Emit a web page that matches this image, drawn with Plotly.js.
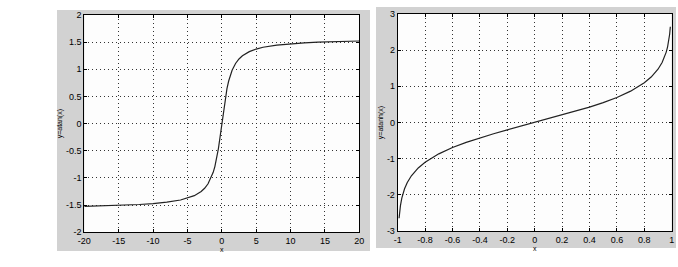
<!DOCTYPE html>
<html><head><meta charset="utf-8">
<script src="https://cdn.plot.ly/plotly-3.0.1.min.js"></script>
<style>html,body{margin:0;padding:0;background:#fff}#c{width:678px;height:267px}</style>
</head><body><div id="c"></div>
<script>
// Left panel: y = atan(x)
const atanX = [-20,-18,-16,-14,-12,-10,-8,-6,-5,-4,-3,-2.5,-2,-1.5,-1.25,-1,-0.75,-0.5,-0.25,0,0.25,0.5,0.75,1,1.25,1.5,2,2.5,3,4,5,6,8,10,12,14,16,18,19,20];
const atanY = [-1.521,-1.516,-1.508,-1.500,-1.488,-1.471,-1.446,-1.406,-1.373,-1.326,-1.249,-1.190,-1.107,-0.983,-0.896,-0.785,-0.644,-0.464,-0.245,0,0.245,0.464,0.644,0.785,0.896,0.983,1.107,1.190,1.249,1.326,1.373,1.406,1.446,1.471,1.488,1.500,1.508,1.513,1.521,1.521];
// Right panel: y = atanh(x)
const atanhX = [-0.99,-0.985,-0.98,-0.97,-0.96,-0.95,-0.93,-0.9,-0.85,-0.8,-0.7,-0.6,-0.5,-0.4,-0.3,-0.2,-0.1,0,0.1,0.2,0.3,0.4,0.5,0.6,0.7,0.8,0.85,0.9,0.93,0.95,0.96,0.97,0.98,0.985,0.99];
const atanhY = [-2.647,-2.44,-2.298,-2.092,-1.946,-1.832,-1.658,-1.472,-1.256,-1.099,-0.867,-0.693,-0.549,-0.424,-0.310,-0.203,-0.100,0,0.100,0.203,0.310,0.424,0.549,0.693,0.867,1.099,1.256,1.472,1.658,1.832,1.946,2.092,2.298,2.44,2.647];

const lxTicks = [-20,-15,-10,-5,0,5,10,15,20];
const lxLabels = ['-20','-15','-10','-5','0','5','10','15','20'];
const lyTicks = [-2,-1.5,-1,-0.5,0,0.5,1,1.5,2];
const lyLabels = ['-2','-1.5','-1','-0.5','0','0.5','1','1.5','2'];
const rxTicks = [-1,-0.8,-0.6,-0.4,-0.2,0,0.2,0.4,0.6,0.8,1];
const rxLabels = ['-1','-0.8','-0.6','-0.4','-0.2','0','0.2','0.4','0.6','0.8','1'];
const ryTicks = [-3,-2,-1,0,1,2,3];
const ryLabels = ['-3','-2','-1','0','1','2','3'];

const W = 678, H = 267;
const px = v => v / W, py = v => 1 - v / H;
const font = {family: 'Liberation Sans, Arial, sans-serif', size: 9, color: '#000'};
const titleFont = {family: 'Liberation Sans, Arial, sans-serif', size: 7, color: '#000'};

function axis(range, tv, tt, domain, extra) {
  return Object.assign({
    range: range, domain: domain, tickvals: tv, ticktext: tt,
    showline: true, mirror: 'ticks', linecolor: '#000', linewidth: 1,
    ticks: 'inside', ticklen: 3, tickcolor: '#000',
    showgrid: true, gridcolor: '#333', griddash: '1px,3px', gridwidth: 1,
    zeroline: false, tickfont: font, fixedrange: true
  }, extra);
}

const traces = [
  {x: atanX, y: atanY, type: 'scatter', mode: 'lines', line: {color: '#222', width: 1.2}, xaxis: 'x', yaxis: 'y', hoverinfo: 'skip'},
  {x: atanhX, y: atanhY, type: 'scatter', mode: 'lines', line: {color: '#222', width: 1.2}, xaxis: 'x2', yaxis: 'y2', hoverinfo: 'skip'}
];

const layout = {
  width: W, height: H, margin: {l: 0, r: 0, t: 0, b: 0},
  paper_bgcolor: '#fff', plot_bgcolor: 'rgba(0,0,0,0)', showlegend: false,
  xaxis: axis([-20, 20], lxTicks, lxLabels, [px(84.3), px(359.3)], {anchor: 'y', title: {text: 'x', font: titleFont, standoff: 2}}),
  yaxis: axis([-2, 2], lyTicks, lyLabels, [py(232.3), py(15)], {anchor: 'x', title: {text: 'y=atan(x)', font: titleFont, standoff: 2}}),
  xaxis2: axis([-1, 1], rxTicks, rxLabels, [px(397.7), px(671.7)], {anchor: 'y2', title: {text: 'x', font: titleFont, standoff: 2}}),
  yaxis2: axis([-3, 3], ryTicks, ryLabels, [py(231), py(14)], {anchor: 'x2', title: {text: 'y=atanh(x)', font: titleFont, standoff: 2}}),
  shapes: [
    {type: 'rect', xref: 'paper', yref: 'paper', x0: px(57), x1: px(370), y0: py(251), y1: py(10), fillcolor: '#d2d2d2', line: {width: 0}, layer: 'below'},
    {type: 'rect', xref: 'paper', yref: 'paper', x0: px(376), x1: px(676), y0: py(248), y1: py(7), fillcolor: '#d2d2d2', line: {width: 0}, layer: 'below'},
    {type: 'rect', xref: 'paper', yref: 'paper', x0: px(84.3), x1: px(359.3), y0: py(232.3), y1: py(15), fillcolor: '#fdfdfd', line: {width: 0}, layer: 'below'},
    {type: 'rect', xref: 'paper', yref: 'paper', x0: px(397.7), x1: px(671.7), y0: py(231), y1: py(14), fillcolor: '#fdfdfd', line: {width: 0}, layer: 'below'}
  ]
};

Plotly.newPlot('c', traces, layout, {staticPlot: true, displayModeBar: false});
</script>
</body></html>
